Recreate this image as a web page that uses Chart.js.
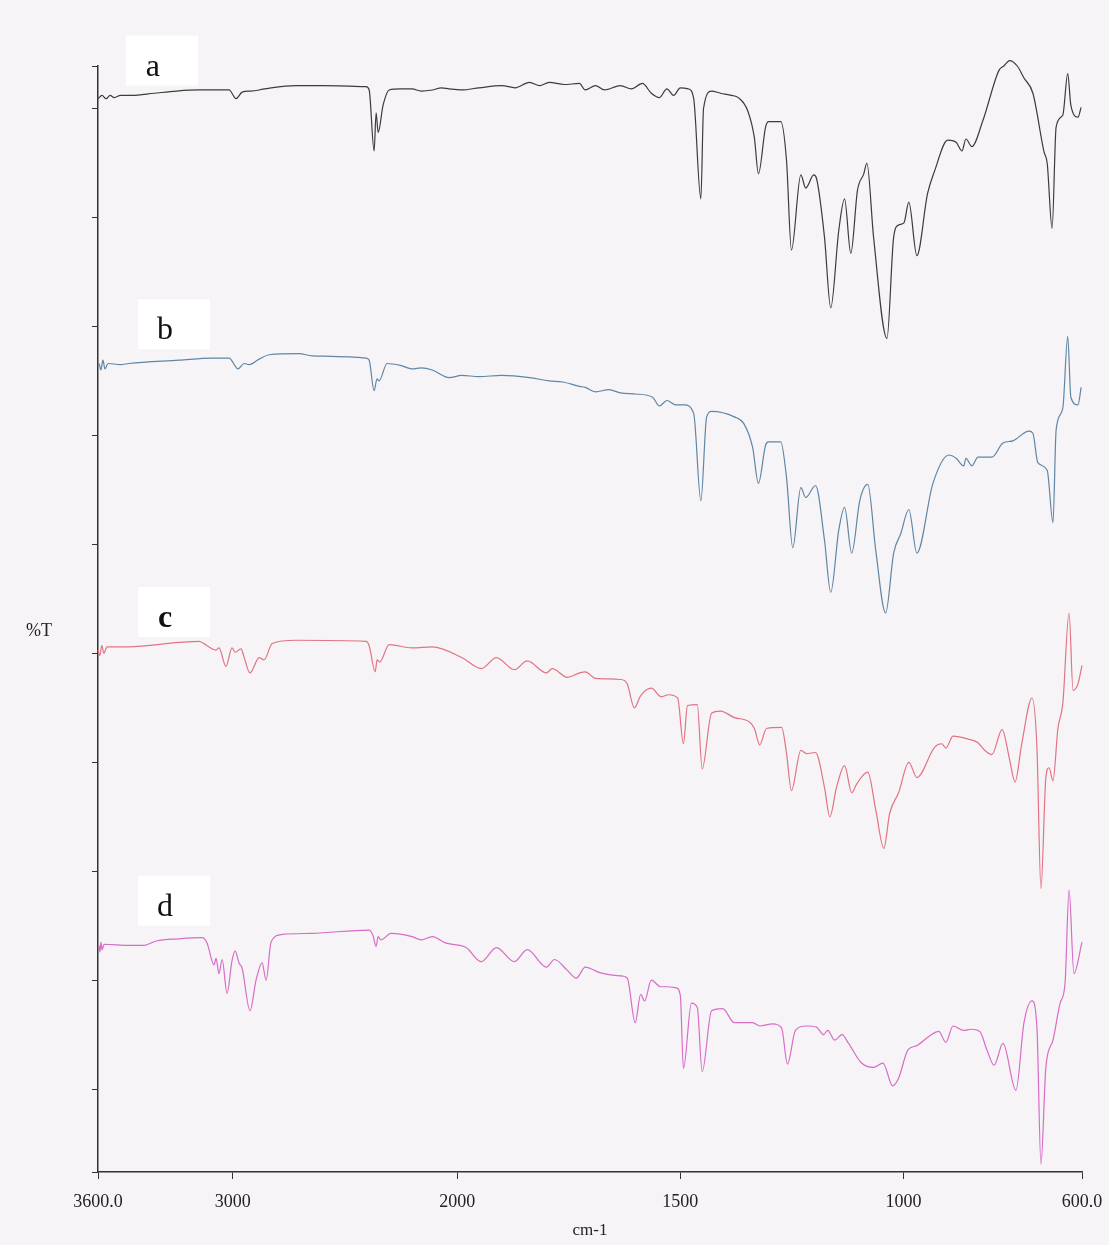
<!DOCTYPE html>
<html>
<head>
<meta charset="utf-8">
<script src="https://cdn.jsdelivr.net/npm/chart.js@4.4.1/dist/chart.umd.min.js"></script>
<style>
html, body { margin: 0; padding: 0; background: #f6f4f6; }
#wrap { width: 1109px; height: 1245px; }
</style>
</head>
<body>
<div id="wrap"><canvas id="ir-chart" width="1109" height="1245"></canvas></div>
<script>
// wavenumber axis (cm-1), the scale doubles below 2000
const xTicks = [3600, 3000, 2000, 1500, 1000, 600];
const xBreak = 2000;
const xSplit = 0.365;
const yTicks = [10, 20, 30, 40, 50, 60, 70, 80, 90, 100];
const yMin = 2.4;
const yMax = 103.9;

const traceNames = ['a', 'b', 'c', 'd'];
const traceColors = ['#3c3c3c', '#5f86a6', '#e27384', '#d86cc6'];
// label box centres [cm-1, %T]
const labelSpots = [[3315, 104.4], [3261, 80.2], [3261, 53.8], [3261, 27.3]];

// [cm-1, %T]
const spectrumA = [[3600,100.9],[3582,101.2],[3564,100.9],[3546,101.2],[3528,101.0],[3500,101.2],[3450,101.2],[3350,101.4],[3250,101.6],[3150,101.7],[3050,101.7],[3016,101.7],[2985,100.9],[2958,101.5],[2920,101.6],[2882,101.7],[2829,101.9],[2718,102.1],[2600,102.1],[2406,102.0],[2392,101.7],[2370,96.1],[2361,99.6],[2352,97.8],[2330,100.3],[2303,101.7],[2250,101.8],[2201,101.8],[2160,101.6],[2111,101.7],[2070,101.9],[2036,101.8],[1990,101.7],[1951,101.9],[1900,102.1],[1870,101.9],[1838,102.4],[1815,102.1],[1794,102.4],[1760,102.2],[1726,102.3],[1713,101.7],[1690,102.1],[1670,101.7],[1634,102.1],[1610,101.8],[1585,102.3],[1565,101.4],[1547,101.0],[1530,101.8],[1515,101.2],[1500,101.9],[1482,101.8],[1470,100.9],[1454,91.7],[1448,100.0],[1430,101.6],[1410,101.4],[1385,101.2],[1370,101.0],[1349,99.8],[1334,97.3],[1325,94.0],[1309,98.3],[1302,98.8],[1275,98.8],[1262,95.2],[1251,87.0],[1230,93.9],[1219,92.7],[1201,93.9],[1195,93.6],[1177,88.2],[1163,81.7],[1145,88.8],[1132,91.7],[1118,86.7],[1103,92.5],[1089,94.0],[1082,95.0],[1067,88.2],[1037,78.9],[1022,88.2],[1011,89.3],[999,89.5],[988,91.4],[970,86.5],[946,92.2],[930,94.3],[901,97.1],[882,96.9],[869,96.1],[860,97.2],[847,96.5],[822,98.9],[786,103.5],[775,103.9],[762,104.4],[745,103.9],[730,102.8],[710,101.4],[685,96.0],[678,95.0],[667,89.0],[658,98.3],[643,99.4],[632,103.2],[625,100.3],[609,99.2],[602,100.1]];

const spectrumB = [[3600,76.6],[3596,76.6],[3587,76.0],[3578,76.9],[3569,76.1],[3555,76.6],[3500,76.5],[3462,76.6],[3239,76.9],[3092,77.1],[3016,77.1],[2976,76.1],[2949,76.6],[2927,76.5],[2882,77.0],[2838,77.4],[2704,77.5],[2646,77.3],[2406,77.1],[2392,76.9],[2370,74.1],[2357,75.2],[2348,75.0],[2312,76.6],[2250,76.4],[2201,76.1],[2160,76.2],[2111,76.0],[2036,75.3],[1990,75.5],[1951,75.4],[1900,75.5],[1838,75.3],[1794,75.0],[1764,74.9],[1726,74.5],[1713,74.4],[1690,74.0],[1660,74.2],[1634,73.9],[1600,73.8],[1562,73.5],[1547,72.7],[1530,73.2],[1510,72.8],[1491,72.8],[1470,72.0],[1454,64.0],[1441,71.7],[1430,72.2],[1379,71.7],[1358,71.1],[1338,68.9],[1325,65.6],[1309,69.1],[1302,69.4],[1275,69.4],[1262,66.1],[1248,59.7],[1230,65.2],[1219,64.3],[1197,65.4],[1177,60.4],[1163,55.6],[1145,61.3],[1132,63.4],[1116,59.2],[1098,64.0],[1080,65.5],[1062,59.4],[1040,53.7],[1022,59.2],[1006,61.0],[988,63.2],[970,59.2],[934,65.6],[898,68.2],[882,67.9],[865,67.2],[860,67.9],[847,67.2],[833,68.0],[802,68.0],[777,69.3],[755,69.5],[719,70.4],[710,70.2],[699,67.5],[678,66.8],[665,62.0],[658,70.5],[643,72.5],[632,79.1],[625,73.5],[609,72.8],[602,74.4]];

const spectrumC = [[3600,50.3],[3592,49.8],[3583,50.7],[3574,50.0],[3560,50.6],[3462,50.6],[3239,51.0],[3150,51.1],[3114,50.7],[3074,50.3],[3061,50.5],[3030,48.8],[3003,50.5],[2989,50.1],[2963,50.4],[2950,49.7],[2923,48.2],[2882,49.6],[2860,49.4],[2824,50.9],[2718,51.2],[2406,51.1],[2392,50.7],[2365,48.3],[2357,49.4],[2345,49.2],[2303,50.8],[2201,50.5],[2111,50.6],[1989,49.6],[1946,48.6],[1912,49.6],[1872,48.5],[1843,49.3],[1800,48.2],[1787,48.6],[1753,47.8],[1726,48.2],[1713,48.3],[1690,47.7],[1634,47.6],[1619,47.2],[1603,45.0],[1589,46.1],[1565,46.8],[1542,46.0],[1527,46.2],[1506,45.9],[1493,41.7],[1484,45.2],[1462,45.3],[1451,39.4],[1430,44.5],[1410,44.7],[1379,44.1],[1345,43.7],[1334,43.1],[1322,41.6],[1307,43.1],[1273,43.2],[1262,40.8],[1251,37.4],[1230,41.1],[1217,40.8],[1197,40.9],[1177,37.7],[1165,35.0],[1150,37.7],[1132,39.7],[1116,37.2],[1105,38.0],[1080,39.1],[1062,35.6],[1044,32.1],[1031,35.3],[1011,37.2],[988,40.0],[970,38.6],[930,41.4],[914,41.7],[905,41.3],[889,42.4],[853,42.1],[833,41.8],[818,41.1],[802,40.7],[779,43.0],[762,40.2],[750,38.2],[735,41.7],[712,45.9],[701,41.4],[692,28.4],[681,38.6],[674,39.5],[665,38.3],[654,43.1],[643,45.4],[629,53.7],[620,46.6],[609,47.2],[600,48.9]];

const spectrumD = [[3600,23.2],[3596,23.2],[3591,22.6],[3587,23.5],[3582,22.8],[3573,23.3],[3462,23.2],[3395,23.2],[3341,23.6],[3239,23.8],[3136,23.9],[3114,23.4],[3083,21.4],[3074,22.0],[3061,20.6],[3047,21.9],[3025,18.8],[3003,21.8],[2989,22.7],[2972,21.6],[2958,21.1],[2923,17.2],[2896,20.0],[2869,21.6],[2851,20.0],[2829,23.5],[2780,24.2],[2646,24.3],[2392,24.6],[2375,24.1],[2361,23.1],[2352,24.0],[2340,23.7],[2294,24.3],[2201,24.0],[2160,23.7],[2111,24.0],[2049,23.4],[1980,23.0],[1946,21.7],[1912,23.0],[1872,21.7],[1843,22.8],[1800,21.2],[1782,21.9],[1753,20.9],[1733,20.2],[1713,21.2],[1681,20.7],[1634,20.4],[1619,20.2],[1601,16.1],[1589,18.7],[1580,18.1],[1565,20.0],[1544,19.4],[1529,19.4],[1509,19.3],[1500,18.6],[1493,11.9],[1475,17.9],[1462,17.5],[1451,11.6],[1430,17.2],[1405,17.4],[1379,16.1],[1358,16.1],[1338,16.1],[1322,15.8],[1293,16.0],[1273,15.6],[1260,12.3],[1242,15.4],[1217,15.8],[1195,15.7],[1179,15.0],[1170,15.4],[1154,14.5],[1138,15.0],[1123,14.2],[1094,12.4],[1067,12.0],[1046,12.4],[1024,10.3],[1011,11.0],[990,13.6],[970,14.0],[941,14.9],[921,15.3],[905,14.3],[889,15.8],[865,15.4],[849,15.5],[829,15.3],[813,13.6],[797,12.2],[777,14.2],[748,9.9],[730,16.1],[712,18.1],[701,15.7],[692,3.1],[681,12.0],[665,14.5],[649,17.9],[638,19.7],[629,28.3],[618,20.6],[600,23.5]];

const spectra = [spectrumA, spectrumB, spectrumC, spectrumD];

// linear scale with a scale change at 2000 cm-1, high wavenumbers on the left
class WavenumberScale extends Chart.LinearScale {
    getPixelForValue(value) {
        if (value === null || isNaN(value)) return NaN;
        let dec;
        if (value >= xBreak) {
            dec = (this.max - value) / (this.max - xBreak) * xSplit;
        } else {
            dec = xSplit + (xBreak - value) / (xBreak - this.min) * (1 - xSplit);
        }
        return this.getPixelForDecimal(dec);
    }
    getValueForPixel(pixel) {
        const dec = this.getDecimalForPixel(pixel);
        if (dec <= xSplit) return this.max - dec / xSplit * (this.max - xBreak);
        return xBreak - (dec - xSplit) / (1 - xSplit) * (xBreak - this.min);
    }
    buildTicks() {
        return xTicks.map(v => ({ value: v }));
    }
}
WavenumberScale.id = 'wavenumber';
WavenumberScale.defaults = Chart.LinearScale.defaults;
Chart.register(WavenumberScale);

// background, a-d label boxes and the %T caption
const decorations = {
    id: 'decorations',
    beforeDraw(chart) {
        const ctx = chart.ctx;
        ctx.save();
        ctx.fillStyle = '#f6f4f6';
        ctx.fillRect(0, 0, chart.width, chart.height);
        ctx.restore();
    },
    afterDraw(chart) {
        const { ctx, scales: { x, y } } = chart;
        ctx.save();
        traceNames.forEach((name, i) => {
            const cx = x.getPixelForValue(labelSpots[i][0]);
            const cy = y.getPixelForValue(labelSpots[i][1]);
            ctx.fillStyle = '#ffffff';
            ctx.fillRect(cx - 36, cy - 25, 72, 50);
            ctx.fillStyle = '#111111';
            ctx.font = (name === 'c' ? 'bold ' : '') + '32px "Liberation Serif"';
            ctx.textAlign = 'center';
            ctx.textBaseline = 'alphabetic';
            ctx.fillText(name, cx - 9, cy + 15);
        });
        ctx.fillStyle = '#222222';
        ctx.font = '18px "Liberation Serif"';
        ctx.textAlign = 'center';
        ctx.textBaseline = 'middle';
        ctx.fillText('%T', chart.chartArea.left - 59, y.getPixelForValue(52));
        ctx.restore();
    }
};

new Chart(document.getElementById('ir-chart'), {
    type: 'line',
    data: {
        datasets: spectra.map((s, i) => ({
            label: traceNames[i],
            data: s.map(([wn, t]) => ({ x: wn, y: t })),
            borderColor: traceColors[i],
            borderWidth: 1.2,
            pointRadius: 0,
            cubicInterpolationMode: 'monotone',
            fill: false,
            clip: false
        }))
    },
    options: {
        responsive: false,
        animation: false,
        devicePixelRatio: 1,
        layout: { padding: { top: 66, right: 27, left: 0, bottom: 0 } },
        plugins: { legend: { display: false }, tooltip: { enabled: false } },
        scales: {
            x: {
                type: 'wavenumber',
                min: 600,
                max: 3600,
                afterFit(scale) {
                    scale.height = 73;
                    // end labels may overhang the margins
                    scale.paddingLeft = 0;
                    scale.paddingRight = 0;
                },
                grid: { drawOnChartArea: false, drawTicks: true, tickLength: 7, color: '#333' },
                border: { display: true, color: '#333', width: 1.5 },
                ticks: {
                    autoSkip: false,
                    maxRotation: 0,
                    padding: 12,
                    color: '#222',
                    font: { family: 'Liberation Serif', size: 18 },
                    callback: v => (v === 3600 || v === 600) ? v.toFixed(1) : String(v)
                },
                title: {
                    display: true,
                    text: 'cm-1',
                    color: '#222',
                    font: { family: 'Liberation Serif', size: 17 },
                    padding: { top: 0, bottom: 4 }
                }
            },
            y: {
                min: yMin,
                max: yMax,
                afterFit(scale) { scale.width = 98; },
                afterBuildTicks(scale) {
                    scale.ticks = [yMin, ...yTicks, yMax].map(v => ({ value: v }));
                },
                grid: { drawOnChartArea: false, drawTicks: true, tickLength: 6, color: '#333' },
                border: { display: true, color: '#333', width: 1.5 },
                ticks: { display: false }
            }
        }
    },
    plugins: [decorations]
});
</script>
</body>
</html>
